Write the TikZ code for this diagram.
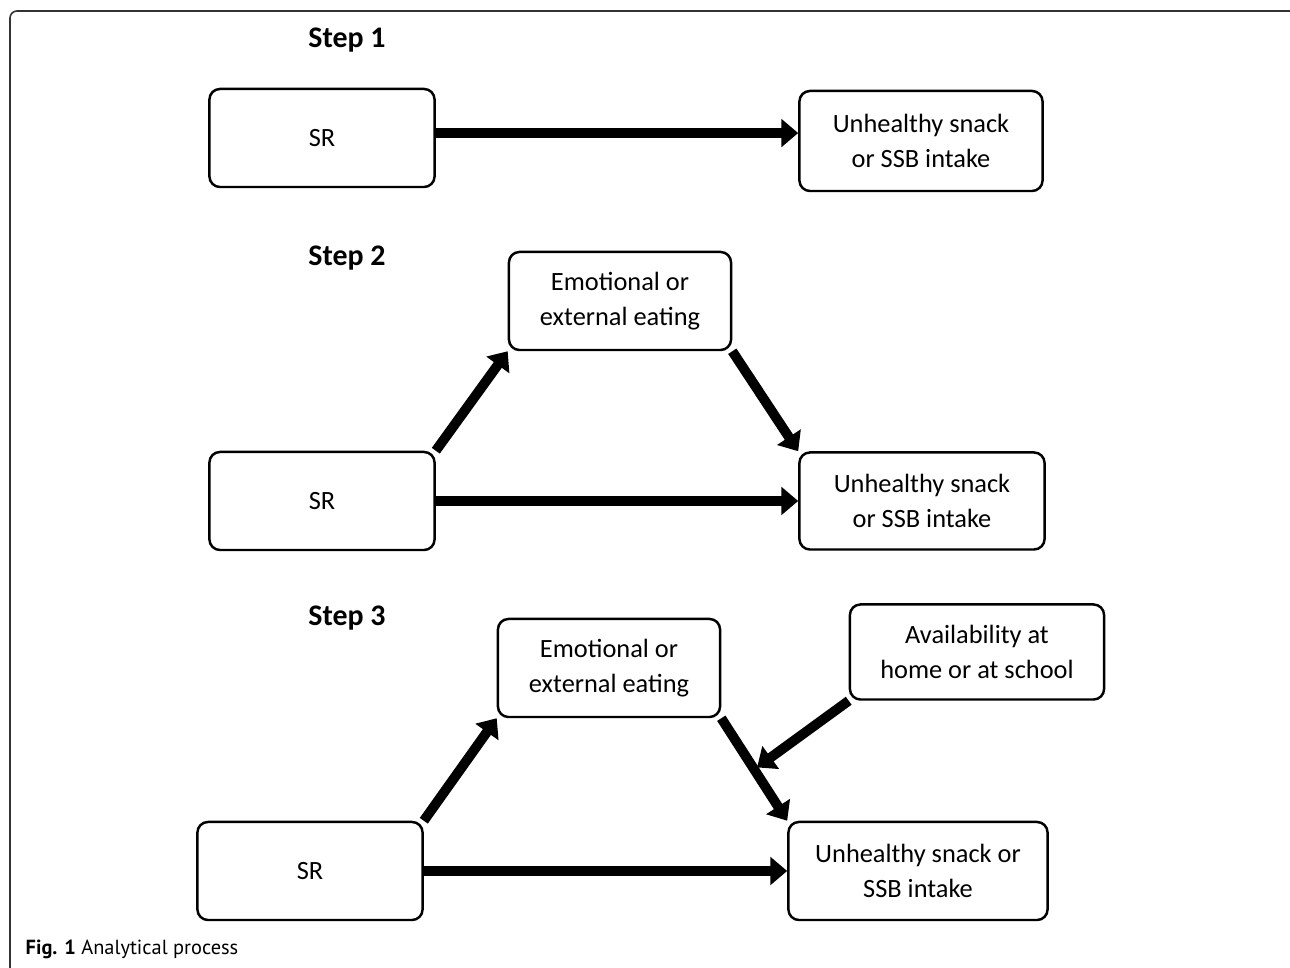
\documentclass[tikz,border=0pt]{standalone}
\usepackage{fontspec}
\setmainfont{Carlito}
\newfontfamily\capfont{PT Sans}
\usetikzlibrary{arrows.meta}
\usetikzlibrary{calc}
\usetikzlibrary{positioning}

\begin{document}
\begin{tikzpicture}[
    x=0.01cm, y=-0.01cm,
    stage/.style={draw, rounded corners=3pt, line width=0.7pt, align=center,
      inner sep=0pt, font=\fontsize{7.5}{10}\selectfont},
    srbox/.style={stage, minimum width=2.25cm, minimum height=0.98cm},
    medbox/.style={stage, minimum width=2.22cm, minimum height=0.98cm},
    steplabel/.style={font=\fontsize{8.5}{10}\selectfont\bfseries},
    flow/.style={line width=2.8pt, -{Triangle[length=4.8pt, width=7.8pt]}}]

    \useasboundingbox (0, 0) rectangle (1290, 968);
    \draw [gray!40!black, line width=0.45pt, rounded corners=2pt]
    (10, 11) rectangle (1300, 975);

    \node [steplabel] (step1) at (347, 40) {Step 1};
    \node [srbox] (sr1) at (322, 138) {SR};
    \node [stage, minimum width=2.43cm, minimum height=1cm] (out1) at (921, 141)
    {Unhealthy snack\\or SSB intake};
    \draw [flow] ([yshift=1.4pt]sr1.east) -- ([yshift=1.4pt]sr1.east -| out1.west);

    \node [steplabel] (step2) at (347, 258) {Step 2};
    \node [medbox] (med2) at (620, 301) {Emotional or\\external eating};
    \node [srbox] (sr2) at (322, 501) {SR};
    \node [stage, minimum width=2.45cm, minimum height=0.97cm] (out2) at (922, 501)
    {Unhealthy snack\\or SSB intake};
    \draw [flow] (sr2.north east) -- (med2.south west);
    \draw [flow] (med2.south east) -- (out2.north west);
    \draw [flow] (sr2.east) -- (out2.west);

    \node [steplabel] (step3) at (347, 618) {Step 3};
    \node [medbox] (med3) at (609, 668) {Emotional or\\external eating};
    \node [stage, minimum width=2.54cm, minimum height=0.95cm] (avail) at (977, 652)
    {Availability at\\home or at school};
    \node [srbox] (sr3) at (310, 871) {SR};
    \node [stage, minimum width=2.59cm, minimum height=0.98cm] (out3) at (918, 871)
    {Unhealthy snack or\\SSB intake};
    \draw [flow] (sr3.north east) -- (med3.south west);
    \draw [flow] (med3.south east) -- (out3.north west);
    \draw [flow] (sr3.east) -- (out3.west);
    \coordinate (join) at ($(med3.south east)!0.5!(out3.north west)$);
    \draw [flow, shorten >=1pt] (avail.south west) -- (join);

    \node [anchor=west, inner sep=0pt, font=\capfont\fontsize{5.8}{7}\selectfont]
    (caption) at (25, 949) {\textbf{Fig. 1} Analytical process};

  \end{tikzpicture}
\end{document}
